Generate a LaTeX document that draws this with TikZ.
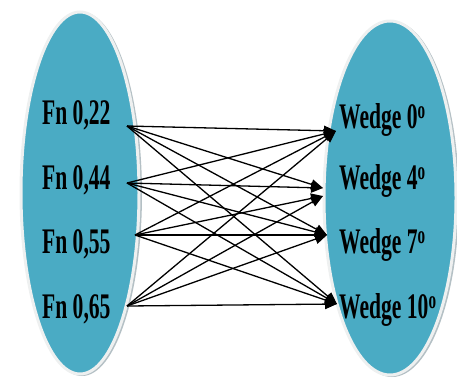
\documentclass[tikz,border=0pt]{standalone}
\usepackage{fontspec}
\setmainfont{Liberation Serif}
\usetikzlibrary{arrows.meta}
\definecolor{teal1}{RGB}{74,171,196}
\definecolor{rim}{RGB}{238,240,240}
\definecolor{shadowc}{RGB}{130,150,158}
\tikzset{
  blob/.style={fill=teal1, draw=rim, line width=3pt},
  blobshadow/.style={fill=shadowc, opacity=0.6},
  lbl/.style={inner sep=0pt, font=\bfseries\fontsize{36}{40}\selectfont, xscale=0.6},
  link/.style={line width=1.3pt, -{Triangle[length=12pt,width=10pt]}},
}
\begin{document}
\begin{tikzpicture}[x=1pt,y=-1pt]
\useasboundingbox (0,0) rectangle (457,381);
% ellipses
\fill[blobshadow] (82,194) ellipse [x radius=60, y radius=182];
\path[blob] (80,193) ellipse [x radius=59, y radius=181];
\fill[blobshadow] (392,199) ellipse [x radius=67, y radius=178];
\path[blob] (390,198) ellipse [x radius=66, y radius=177];
% labels
\node[lbl, anchor=base west] (f1) at (42,124) {Fn 0,22};
\node[lbl, anchor=base west] (f2) at (42,189) {Fn 0,44};
\node[lbl, anchor=base west] (f3) at (42,253) {Fn 0,55};
\node[lbl, anchor=base west] (f4) at (42,318) {Fn 0,65};
\node[lbl, anchor=base west] (w1) at (339,128) {Wedge 0\textsuperscript{o}};
\node[lbl, anchor=base west] (w2) at (339,189) {Wedge 4\textsuperscript{o}};
\node[lbl, anchor=base west] (w3) at (339,253) {Wedge 7\textsuperscript{o}};
\node[lbl, anchor=base west] (w4) at (339,318) {Wedge 10\textsuperscript{o}};
% connector end points
\coordinate (s1) at (127,126);
\coordinate (s2) at (127,183);
\coordinate (s3) at (135,235);
\coordinate (s4) at (127,306);
\coordinate (t1) at (336,131);
\coordinate (t2a) at (323,188);
\coordinate (t2b) at (323,196);
\coordinate (t3) at (327,235);
\coordinate (t4) at (337,304);
% connectors
\foreach \s in {s1,s2,s3,s4} {
  \draw[link] (\s) -- (t1);
  \draw[link] (\s) -- (t3);
  \draw[link] (\s) -- (t4);
}
\draw[link] (s1) -- (t2a);
\draw[link] (s2) -- (t2a);
\draw[link] (s3) -- (t2b);
\draw[link] (s4) -- (t2b);
\end{tikzpicture}
\end{document}
